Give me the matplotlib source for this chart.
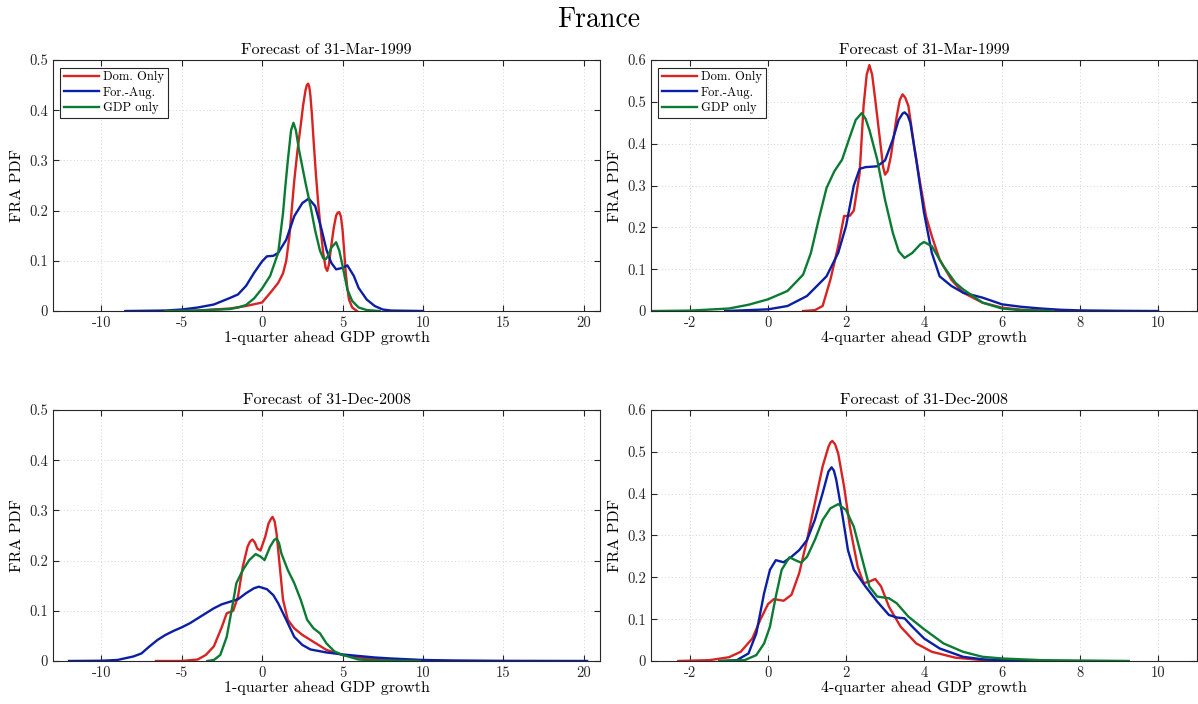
import matplotlib
matplotlib.use("Agg")
import matplotlib.pyplot as plt

plt.rcParams['font.family'] = ['cmr10', 'DejaVu Serif']
plt.rcParams['axes.unicode_minus'] = False
plt.rcParams['axes.formatter.use_mathtext'] = True

# Colores de las series
c_dom = '#d92222'
c_for = '#0a1ea6'
c_gdp = '#0b7b34'

series_names = ['Dom. Only', 'For.-Aug.', 'GDP only']

# ---- 1-quarter, 31-Mar-1999 ----
q1_a_dom_x = [-5, -4, -2, -1, 0, 0.5, 1, 1.3, 1.5, 1.7, 2.0, 2.2, 2.4, 2.55, 2.7, 2.78, 2.86, 2.93,
              3.0, 3.1, 3.2, 3.35, 3.5, 3.65, 3.8, 3.95, 4.05, 4.15, 4.3, 4.45, 4.6, 4.7, 4.8, 4.9,
              5.0, 5.1, 5.2, 5.3, 5.4, 5.6, 5.9]
q1_a_dom_y = [0, 0.001, 0.005, 0.01, 0.017, 0.036, 0.056, 0.075, 0.1, 0.15, 0.26, 0.32, 0.37, 0.41,
              0.44, 0.45, 0.453, 0.447, 0.43, 0.39, 0.34, 0.27, 0.21, 0.16, 0.115, 0.086, 0.08, 0.092,
              0.13, 0.165, 0.19, 0.196, 0.197, 0.188, 0.162, 0.12, 0.076, 0.045, 0.023, 0.007, 0]
q1_a_for_x = [-8.5, -6, -5, -4, -3, -2, -1.5, -1, -0.5, 0, 0.3, 0.7, 1.0, 1.5, 2.0, 2.5, 2.9, 3.3,
              3.7, 4.0, 4.3, 4.6, 5.0, 5.3, 5.7, 6.0, 6.5, 7, 7.5, 8, 10]
q1_a_for_y = [0, 0.001, 0.003, 0.007, 0.013, 0.026, 0.033, 0.05, 0.076, 0.099, 0.109, 0.11, 0.116,
              0.142, 0.189, 0.215, 0.224, 0.209, 0.162, 0.122, 0.096, 0.083, 0.086, 0.091, 0.07,
              0.046, 0.023, 0.01, 0.003, 0.001, 0]
q1_a_gdp_x = [-6, -4, -2, -1.5, -1, -0.5, 0, 0.5, 1, 1.3, 1.45, 1.6, 1.8, 1.95, 2.1, 2.3, 2.7, 3.0,
              3.3, 3.6, 3.8, 3.95, 4.1, 4.3, 4.6, 4.8, 5.0, 5.3, 5.6, 6.0, 6.5, 7.3]
q1_a_gdp_y = [0, 0.001, 0.004, 0.007, 0.012, 0.025, 0.045, 0.07, 0.116, 0.195, 0.25, 0.30, 0.36, 0.375,
              0.36, 0.32, 0.255, 0.21, 0.16, 0.12, 0.105, 0.103, 0.11, 0.126, 0.137, 0.12, 0.09,
              0.043, 0.02, 0.007, 0.002, 0]

# ---- 4-quarter, 31-Mar-1999 ----
q4_a_dom_x = [0.9, 1.2, 1.4, 1.6, 1.8, 1.95, 2.1, 2.2, 2.35, 2.45, 2.53, 2.6, 2.67, 2.75, 2.9, 2.95,
              3.0, 3.07, 3.15, 3.3, 3.38, 3.45, 3.52, 3.6, 3.75, 3.9, 4.05, 4.2, 4.4, 4.7, 5.0, 5.5,
              6.0, 6.5, 7.5]
q4_a_dom_y = [0, 0.002, 0.012, 0.075, 0.155, 0.227, 0.228, 0.24, 0.33, 0.49, 0.565, 0.588, 0.565,
              0.505, 0.386, 0.345, 0.326, 0.335, 0.37, 0.465, 0.505, 0.518, 0.51, 0.49, 0.393, 0.306,
              0.227, 0.179, 0.123, 0.075, 0.044, 0.02, 0.008, 0.003, 0]
q4_a_for_x = [-1.1, 0, 0.5, 1.0, 1.5, 1.8, 2.0, 2.2, 2.35, 2.5, 2.8, 3.0, 3.2, 3.35, 3.45, 3.5, 3.58,
              3.65, 3.8, 4.0, 4.2, 4.4, 4.7, 5.0, 5.5, 6.0, 6.5, 7, 7.5, 8, 9, 10]
q4_a_for_y = [0, 0.004, 0.012, 0.036, 0.083, 0.139, 0.203, 0.30, 0.34, 0.344, 0.346, 0.36, 0.41,
              0.457, 0.472, 0.475, 0.468, 0.45, 0.362, 0.235, 0.139, 0.083, 0.06, 0.044, 0.032,
              0.016, 0.01, 0.006, 0.003, 0.0015, 0.0005, 0]
q4_a_gdp_x = [-3, -2, -1, -0.5, 0, 0.5, 0.9, 1.1, 1.3, 1.5, 1.7, 1.9, 2.1, 2.25, 2.4, 2.5, 2.6, 2.8,
              3.0, 3.2, 3.35, 3.5, 3.7, 3.9, 4.0, 4.2, 4.5, 4.8, 5.0, 5.5, 6.0, 6.5, 7.3]
q4_a_gdp_y = [0, 0.001, 0.006, 0.015, 0.028, 0.048, 0.087, 0.139, 0.219, 0.294, 0.334, 0.362, 0.417,
              0.457, 0.473, 0.46, 0.433, 0.362, 0.266, 0.187, 0.143, 0.127, 0.139, 0.159, 0.165,
              0.155, 0.107, 0.068, 0.052, 0.02, 0.006, 0.002, 0]

# ---- 1-quarter, 31-Dec-2008 ----
q1_b_dom_x = [-6.6, -5, -4, -3.5, -3, -2.5, -2.2, -1.8, -1.5, -1.2, -0.9, -0.75, -0.6, -0.45, -0.3,
              -0.1, 0.2, 0.4, 0.55, 0.65, 0.78, 0.9, 1.1, 1.3, 1.6, 2.0, 2.5, 3.0, 3.5, 4.0, 5.0, 6,
              7, 8, 10]
q1_b_dom_y = [0, 0, 0.003, 0.012, 0.029, 0.068, 0.095, 0.1, 0.128, 0.188, 0.228, 0.238, 0.242, 0.236,
              0.224, 0.22, 0.248, 0.274, 0.283, 0.287, 0.278, 0.254, 0.188, 0.122, 0.082, 0.065,
              0.052, 0.042, 0.032, 0.022, 0.012, 0.007, 0.004, 0.002, 0]
q1_b_for_x = [-12, -10, -9, -8, -7.5, -7, -6.5, -6, -5.5, -5, -4.5, -4, -3.5, -3, -2.5, -2, -1.5, -1,
              -0.5, -0.2, 0.3, 0.7, 1.0, 1.5, 2.0, 2.5, 3, 4, 5, 6, 7, 8, 10, 12, 15, 20.2]
q1_b_for_y = [0, 0.0005, 0.002, 0.009, 0.015, 0.029, 0.042, 0.052, 0.06, 0.067, 0.075, 0.085, 0.095,
              0.105, 0.113, 0.118, 0.123, 0.135, 0.145, 0.148, 0.143, 0.131, 0.115, 0.082, 0.048,
              0.032, 0.023, 0.017, 0.013, 0.01, 0.007, 0.005, 0.002, 0.001, 0.0003, 0]
q1_b_gdp_x = [-3.4, -3, -2.6, -2.2, -1.9, -1.6, -1.2, -0.8, -0.4, -0.1, 0.15, 0.5, 0.75, 0.9, 1.05,
              1.2, 1.6, 2.0, 2.4, 2.8, 3.2, 3.6, 4.0, 4.5, 5.0, 6, 7, 9.8]
q1_b_gdp_y = [0, 0.002, 0.012, 0.048, 0.1, 0.155, 0.181, 0.201, 0.213, 0.208, 0.201, 0.228, 0.241,
              0.244, 0.235, 0.214, 0.181, 0.155, 0.122, 0.082, 0.065, 0.055, 0.035, 0.019, 0.012,
              0.003, 0.001, 0]

# ---- 4-quarter, 31-Dec-2008 ----
q4_b_dom_x = [-2.3, -1.5, -1, -0.7, -0.4, -0.2, 0, 0.15, 0.4, 0.6, 0.8, 1.0, 1.2, 1.4, 1.55, 1.6,
              1.65, 1.72, 1.8, 1.95, 2.1, 2.3, 2.45, 2.6, 2.75, 2.9, 3.1, 3.4, 3.8, 4.2, 4.8, 5.5,
              7.2]
q4_b_dom_y = [0, 0.002, 0.009, 0.022, 0.054, 0.098, 0.136, 0.148, 0.144, 0.158, 0.21, 0.289, 0.377,
              0.465, 0.512, 0.522, 0.526, 0.518, 0.496, 0.417, 0.321, 0.225, 0.186, 0.19, 0.196,
              0.178, 0.13, 0.082, 0.042, 0.022, 0.008, 0.002, 0]
q4_b_for_x = [-1.2, -0.8, -0.5, -0.3, -0.1, 0.05, 0.2, 0.4, 0.6, 0.8, 1.0, 1.2, 1.4, 1.55, 1.63,
              1.69, 1.75, 1.9, 2.05, 2.2, 2.5, 2.8, 3.1, 3.3, 3.5, 3.7, 4.0, 4.4, 5.0, 5.5, 6, 7.2]
q4_b_for_y = [0, 0.002, 0.018, 0.066, 0.162, 0.218, 0.241, 0.236, 0.249, 0.265, 0.289, 0.337, 0.401,
              0.453, 0.463, 0.455, 0.433, 0.353, 0.265, 0.218, 0.178, 0.142, 0.11, 0.104, 0.102,
              0.082, 0.054, 0.03, 0.01, 0.004, 0.002, 0]
q4_b_gdp_x = [-1.25, -0.6, -0.3, -0.1, 0.05, 0.2, 0.35, 0.55, 0.7, 0.85, 1.0, 1.2, 1.4, 1.6, 1.8,
              2.0, 2.2, 2.4, 2.6, 2.8, 3.1, 3.3, 3.6, 4.0, 4.5, 5.0, 5.5, 6, 7, 9.25]
q4_b_gdp_y = [0, 0.002, 0.014, 0.042, 0.082, 0.154, 0.218, 0.248, 0.241, 0.235, 0.249, 0.289, 0.337,
              0.365, 0.375, 0.361, 0.321, 0.249, 0.178, 0.154, 0.15, 0.138, 0.106, 0.076, 0.042,
              0.022, 0.01, 0.006, 0.002, 0]

# Ejes
q1_ticks = [-10, -5, 0, 5, 10, 15, 20]
q4_ticks = [-2, 0, 2, 4, 6, 8, 10]
q1_yticks = [0, 0.1, 0.2, 0.3, 0.4, 0.5]
q4_yticks = [0, 0.1, 0.2, 0.3, 0.4, 0.5, 0.6]

panels = [
    # (posicion, titulo, xlabel, xlim, xticks, yticks, datos, leyenda)
    ([0.0442, 0.5582, 0.4566, 0.3565], 'Forecast of 31-Mar-1999', '1-quarter ahead GDP growth',
     (-13, 21), q1_ticks, q1_yticks,
     [(q1_a_dom_x, q1_a_dom_y), (q1_a_for_x, q1_a_for_y), (q1_a_gdp_x, q1_a_gdp_y)], True),
    ([0.5434, 0.5582, 0.4558, 0.3565], 'Forecast of 31-Mar-1999', '4-quarter ahead GDP growth',
     (-3, 11), q4_ticks, q4_yticks,
     [(q4_a_dom_x, q4_a_dom_y), (q4_a_for_x, q4_a_for_y), (q4_a_gdp_x, q4_a_gdp_y)], True),
    ([0.0442, 0.0611, 0.4566, 0.3565], 'Forecast of 31-Dec-2008', '1-quarter ahead GDP growth',
     (-13, 21), q1_ticks, q1_yticks,
     [(q1_b_dom_x, q1_b_dom_y), (q1_b_for_x, q1_b_for_y), (q1_b_gdp_x, q1_b_gdp_y)], False),
    ([0.5434, 0.0611, 0.4558, 0.3565], 'Forecast of 31-Dec-2008', '4-quarter ahead GDP growth',
     (-3, 11), q4_ticks, q4_yticks,
     [(q4_b_dom_x, q4_b_dom_y), (q4_b_for_x, q4_b_for_y), (q4_b_gdp_x, q4_b_gdp_y)], False),
]

colors = [c_dom, c_for, c_gdp]

fig = plt.figure(figsize=(11.98, 7.04), dpi=100)
fig.text(0.5, 0.972, 'France', ha='center', va='center', fontsize=20)

for pos, title, xlabel, xlim, xt, yt, data, show_leg in panels:
    ax = fig.add_axes(pos)
    for (x, y), col, name in zip(data, colors, series_names):
        ax.plot(x, y, color=col, linewidth=1.7, label=name, solid_joinstyle='round')
    ax.set_xlim(xlim)
    ax.set_ylim(yt[0], yt[-1])
    ax.set_xticks(xt)
    ax.set_xticklabels([str(t) for t in xt])
    ax.set_yticks(yt)
    ax.set_yticklabels(['0'] + ['%.1f' % t for t in yt[1:]])
    ax.set_title(title, fontsize=11.5, pad=4)
    ax.set_xlabel(xlabel, fontsize=11.5, labelpad=1)
    ax.set_ylabel('FRA PDF', fontsize=11.5, labelpad=4)
    ax.tick_params(direction='in', top=True, right=True, labelsize=10.5, colors='#262626',
                   length=4, width=0.8)
    for s in ax.spines.values():
        s.set_color('#262626')
        s.set_linewidth(0.8)
    ax.grid(True, linestyle=(0, (1, 2.5)), color='#d4d4d4', linewidth=0.7)
    if show_leg:
        leg = ax.legend(loc='upper left', fontsize=9, fancybox=False, framealpha=1,
                        edgecolor='#262626', handlelength=2.8, handletextpad=0.3,
                        borderpad=0.3, labelspacing=0.25, borderaxespad=0.6)
        leg.get_frame().set_linewidth(0.8)

fig.savefig('out.png', dpi=100)
